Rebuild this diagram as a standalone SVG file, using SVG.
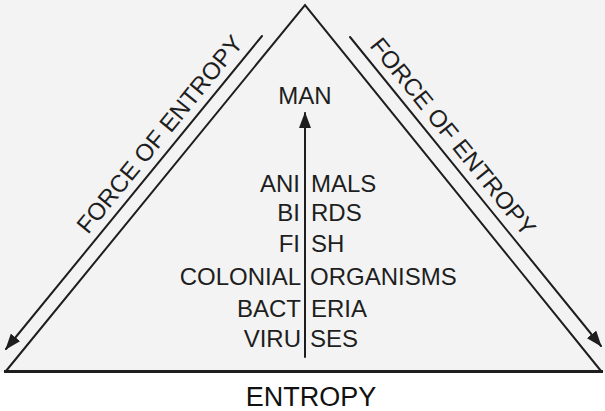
<svg xmlns="http://www.w3.org/2000/svg" width="605" height="411" viewBox="0 0 605 411">
  <style>
    .lbl { font-family: "Liberation Sans", Arial, sans-serif; font-size: 24px; fill: #1e1e1e; }
    .edge { stroke: #1e1e1e; stroke-width: 2; fill: none; stroke-linecap: round; }
    .tri { stroke: #1e1e1e; stroke-width: 2; fill: none; stroke-linejoin: miter; }
  </style>
  <defs>
    <marker id="ah" viewBox="0 0 16 12" refX="15" refY="6" markerWidth="16" markerHeight="12" markerUnits="userSpaceOnUse" orient="auto">
      <path d="M0,0 L16,6 L0,12 Z" fill="#1e1e1e"/>
    </marker>
  </defs>
  <rect x="0" y="0" width="605" height="372" fill="#f3f3f3"/>
  <rect x="0" y="372" width="605" height="39" fill="#ffffff"/>

  <g id="pyramid">
    <path class="tri" d="M6,371 L305,5 L601,371"/>
    <line x1="4" y1="371.5" x2="603" y2="371.5" stroke="#1e1e1e" stroke-width="3"/>
  </g>

  <g id="connectors">
    <line class="edge" x1="262" y1="36" x2="6" y2="349" marker-end="url(#ah)"/>
    <line class="edge" x1="350" y1="37" x2="601" y2="346" marker-end="url(#ah)"/>
    <line class="edge" x1="305" y1="357" x2="305" y2="113" marker-end="url(#ah)"/>
  </g>

  <g id="force-left">
    <text class="lbl" transform="translate(88,235) rotate(-50.75)">FORCE OF ENTROPY</text>
  </g>
  <g id="force-right">
    <text class="lbl" transform="translate(369,46) rotate(51)">FORCE OF ENTROPY</text>
  </g>

  <g id="man"><text class="lbl" x="305" y="104" text-anchor="middle">MAN</text></g>
  <g id="animals"><text class="lbl" y="192"><tspan x="300" text-anchor="end">ANI</tspan><tspan x="311">MALS</tspan></text></g>
  <g id="birds"><text class="lbl" y="221"><tspan x="300" text-anchor="end">BI</tspan><tspan x="311">RDS</tspan></text></g>
  <g id="fish"><text class="lbl" y="252"><tspan x="300" text-anchor="end">FI</tspan><tspan x="311">SH</tspan></text></g>
  <g id="colonial-organisms"><text class="lbl" y="285"><tspan x="301" text-anchor="end">COLONIAL</tspan><tspan x="310">ORGANISMS</tspan></text></g>
  <g id="bacteria"><text class="lbl" y="317"><tspan x="301" text-anchor="end">BACT</tspan><tspan x="311">ERIA</tspan></text></g>
  <g id="viruses"><text class="lbl" y="347"><tspan x="301" text-anchor="end">VIRU</tspan><tspan x="310">SES</tspan></text></g>

  <g id="entropy"><text x="311" y="406" text-anchor="middle" font-family="Liberation Sans, Arial, sans-serif" font-size="27" fill="#111">ENTROPY</text></g>
</svg>
